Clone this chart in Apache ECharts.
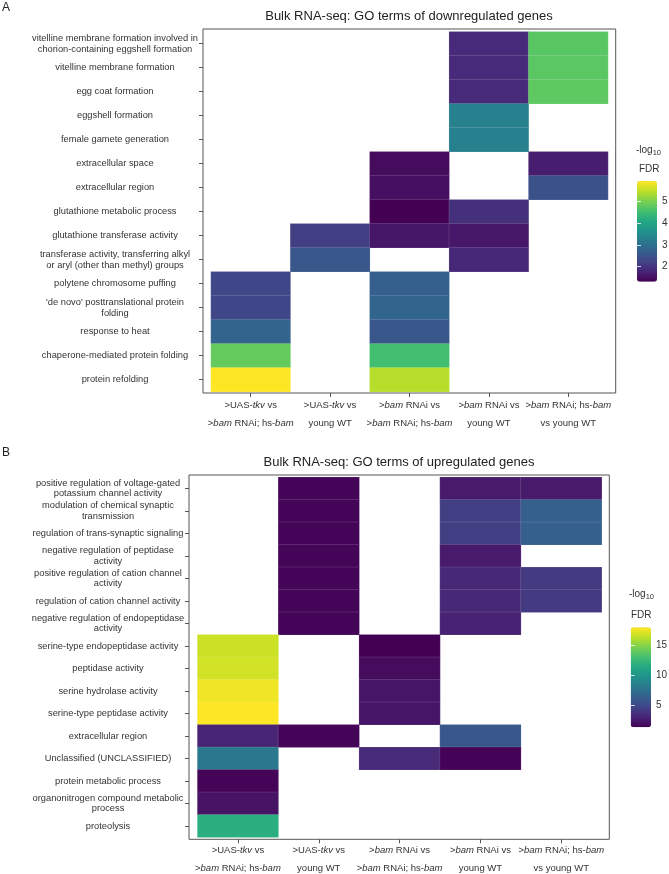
<!DOCTYPE html>
<html>
<head>
<meta charset="utf-8">
<script src="https://cdn.jsdelivr.net/npm/echarts@6/dist/echarts.min.js"></script>
<style>
html,body{margin:0;padding:0;background:#fff;}
#chart{width:669px;height:874px;}
</style>
</head>
<body>
<div id="chart"></div>
<script>
// ---------- data ----------
var columns = [
  '>UAS-{i|tkv} vs\n>{i|bam} RNAi; hs-{i|bam}',
  '>UAS-{i|tkv} vs\nyoung WT',
  '>{i|bam} RNAi vs\n>{i|bam} RNAi; hs-{i|bam}',
  '>{i|bam} RNAi vs\nyoung WT',
  '>{i|bam} RNAi; hs-{i|bam}\nvs young WT'
];

var downRows = [
  'vitelline membrane formation involved in\nchorion-containing eggshell formation',
  'vitelline membrane formation',
  'egg coat formation',
  'eggshell formation',
  'female gamete generation',
  'extracellular space',
  'extracellular region',
  'glutathione metabolic process',
  'glutathione transferase activity',
  'transferase activity, transferring alkyl\nor aryl (other than methyl) groups',
  'polytene chromosome puffing',
  "'de novo' posttranslational protein\nfolding",
  'response to heat',
  'chaperone-mediated protein folding',
  'protein refolding'
];
// -log10 FDR, one row per GO term, columns in order of `columns`
var downValues = [
  [null, null, null, 1.87, 4.70],
  [null, null, null, 1.87, 4.72],
  [null, null, null, 1.87, 4.75],
  [null, null, null, 3.30, null],
  [null, null, null, 3.30, null],
  [null, null, 1.45, null, 1.70],
  [null, null, 1.50, null, 2.45],
  [null, null, 1.32, 1.95, null],
  [null, 2.15, 1.60, 1.62, null],
  [null, 2.55, null, 1.82, null],
  [2.28, null, 2.70, null, null],
  [2.28, null, 2.80, null, null],
  [2.78, null, 2.55, null, null],
  [4.80, null, 4.50, null, null],
  [5.90, null, 5.40, null, null]
];
var downTicks = [2, 3, 4, 5];

var upRows = [
  'positive regulation of voltage-gated\npotassium channel activity',
  'modulation of chemical synaptic\ntransmission',
  'regulation of trans-synaptic signaling',
  'negative regulation of peptidase\nactivity',
  'positive regulation of cation channel\nactivity',
  'regulation of cation channel activity',
  'negative regulation of endopeptidase\nactivity',
  'serine-type endopeptidase activity',
  'peptidase activity',
  'serine hydrolase activity',
  'serine-type peptidase activity',
  'extracellular region',
  'Unclassified (UNCLASSIFIED)',
  'protein metabolic process',
  'organonitrogen compound metabolic\nprocess',
  'proteolysis'
];
var upValues = [
  [null, 1.60, null, 2.60, 2.60],
  [null, 1.60, null, 4.40, 6.40],
  [null, 1.60, null, 4.40, 6.40],
  [null, 1.60, null, 2.60, null],
  [null, 1.60, null, 3.30, 4.20],
  [null, 1.60, null, 3.30, 4.20],
  [null, 1.60, null, 3.00, null],
  [16.6, null, 1.44, null, null],
  [16.8, null, 1.90, null, null],
  [17.6, null, 2.40, null, null],
  [17.9, null, 2.40, null, null],
  [3.10, 1.60, null, 5.90, null],
  [8.00, null, 3.40, 1.55, null],
  [1.60, null, null, null, null],
  [2.30, null, null, null, null],
  [11.8, null, null, null, null]
];
var upTicks = [5, 10, 15];

var viridis = ['#440154','#482475','#414487','#355f8d','#2a788e','#21918c',
               '#22a884','#44bf70','#7ad151','#bddf26','#fde725'];

// ---------- helpers ----------
function toCells(mat) {
  var out = [];
  mat.forEach(function (row, r) {
    row.forEach(function (v, c) {
      if (v !== null) out.push([c, r, v]);
    });
  });
  return out;
}
function extent(mat) {
  var a = [];
  mat.forEach(function (row) { row.forEach(function (v) { if (v !== null) a.push(v); }); });
  return [Math.min.apply(null, a), Math.max.apply(null, a)];
}
var dExt = extent(downValues);
var uExt = extent(upValues);

var FONT = 'Liberation Sans, Arial, sans-serif';
var txt = '#333';
var frameColor = '#555';

function xLabelStyle(margin) {
  return {
    interval: 0, fontSize: 9.5, fontFamily: FONT, color: txt, lineHeight: 18, margin: margin,
    rich: { i: { fontStyle: 'italic', fontSize: 9.5, fontFamily: FONT, color: txt, lineHeight: 18 } }
  };
}

function catX(gi, offset, margin) {
  return {
    type: 'category', gridIndex: gi, data: columns, position: 'bottom', offset: offset,
    axisLine: { show: false },
    axisTick: { show: true, alignWithLabel: true, length: 4, lineStyle: { color: frameColor } },
    axisLabel: xLabelStyle(margin),
    splitLine: { show: false }
  };
}
function catY(gi, rows, offset, margin) {
  return {
    type: 'category', gridIndex: gi, data: rows, inverse: true, offset: offset,
    axisLine: { show: false },
    axisTick: { show: true, alignWithLabel: true, length: 4, lineStyle: { color: frameColor } },
    axisLabel: { interval: 0, fontSize: 9.3, fontFamily: FONT, color: txt, align: 'center', margin: margin, lineHeight: 10.5 },
    splitLine: { show: false }
  };
}
function hiddenAxis(gi) {
  return { type: 'value', gridIndex: gi, min: 0, max: 1, show: false };
}
function legAxis(gi, ext, ticks, pos, showLabel) {
  return {
    type: 'value', gridIndex: gi, min: ext[0], max: ext[1], position: pos, z: 10,
    axisLine: { show: false },
    splitLine: { show: false },
    axisTick: { show: true, inside: true, length: 4, customValues: ticks, lineStyle: { color: '#ffffff', width: 1, opacity: 0.8 } },
    axisLabel: { show: showLabel, customValues: ticks, margin: 5, fontSize: 10, fontFamily: FONT, color: txt }
  };
}
var legHead = { fontSize: 10, fontWeight: 'normal', fontFamily: FONT, color: txt,
  rich: { s: { fontSize: 7.5, fontFamily: FONT, color: txt, padding: [5, 0, 0, 0] } } };

function grid(o) { o.outerBoundsMode = 'none'; o.containLabel = false; return o; }

var option = {
  animation: false,
  backgroundColor: '#ffffff',
  title: [
    { text: 'A', left: 2, top: 2, padding: 0, textStyle: { fontSize: 12, fontWeight: 'normal', fontFamily: FONT, color: '#222' } },
    { text: 'B', left: 2, top: 447, padding: 0, textStyle: { fontSize: 12, fontWeight: 'normal', fontFamily: FONT, color: '#222' } },
    { text: 'Bulk RNA-seq: GO terms of downregulated genes', left: 409, textAlign: 'center', top: 10, padding: 0,
      textStyle: { fontSize: 13, fontWeight: 'normal', fontFamily: FONT, color: '#222' } },
    { text: 'Bulk RNA-seq: GO terms of upregulated genes', left: 399, textAlign: 'center', top: 456, padding: 0,
      textStyle: { fontSize: 13, fontWeight: 'normal', fontFamily: FONT, color: '#222' } },
    { text: '-log{s|10}', left: 636, top: 144, padding: 0, textStyle: legHead },
    { text: 'FDR', left: 639, top: 164, padding: 0, textStyle: legHead },
    { text: '-log{s|10}', left: 629, top: 588, padding: 0, textStyle: legHead },
    { text: 'FDR', left: 631, top: 610, padding: 0, textStyle: legHead }
  ],
  grid: [
    grid({ left: 211, top: 31.7, width: 397, height: 360 }),                 // 0 top cells
    grid({ left: 203, top: 29, width: 412.7, height: 364, show: true, borderColor: frameColor, borderWidth: 1, backgroundColor: 'transparent' }), // 1 frame
    grid({ left: 637, top: 181, width: 20, height: 100.7 }),                 // 2 legend axis
    grid({ left: 197.5, top: 477.3, width: 404.2, height: 360 }),            // 3 bottom cells
    grid({ left: 189, top: 475, width: 420.3, height: 364.3, show: true, borderColor: frameColor, borderWidth: 1, backgroundColor: 'transparent' }), // 4 frame
    grid({ left: 630.7, top: 627.3, width: 20.3, height: 100 })              // 5 legend axis
  ],
  xAxis: [
    catX(0, 1.3, 3),
    hiddenAxis(1),
    hiddenAxis(2),
    catX(3, 2, 2),
    hiddenAxis(4),
    hiddenAxis(5)
  ],
  yAxis: [
    catY(0, downRows, 8, 88),
    hiddenAxis(1),
    legAxis(2, dExt, downTicks, 'right', true),
    legAxis(2, dExt, downTicks, 'left', false),
    catY(3, upRows, 8.5, 81),
    hiddenAxis(4),
    legAxis(5, uExt, upTicks, 'right', true),
    legAxis(5, uExt, upTicks, 'left', false)
  ],
  visualMap: [
    { type: 'continuous', seriesIndex: 0, min: dExt[0], max: dExt[1], inRange: { color: viridis },
      left: 637, top: 181, itemWidth: 20, itemHeight: 100.7, calculable: false, padding: 0, hoverLink: false },
    { type: 'continuous', seriesIndex: 1, min: uExt[0], max: uExt[1], inRange: { color: viridis },
      left: 630.7, top: 627.3, itemWidth: 20.3, itemHeight: 100, calculable: false, padding: 0, hoverLink: false }
  ],
  series: [
    { type: 'heatmap', xAxisIndex: 0, yAxisIndex: 0, data: toCells(downValues),
      itemStyle: { borderColor: 'rgba(255,255,255,0.25)', borderWidth: 0.5 },
      emphasis: { disabled: true } },
    { type: 'heatmap', xAxisIndex: 3, yAxisIndex: 4, data: toCells(upValues),
      itemStyle: { borderColor: 'rgba(255,255,255,0.25)', borderWidth: 0.5 },
      emphasis: { disabled: true } }
  ]
};

var chart = echarts.init(document.getElementById('chart'), null, { renderer: 'canvas' });
chart.setOption(option);
</script>
</body>
</html>
